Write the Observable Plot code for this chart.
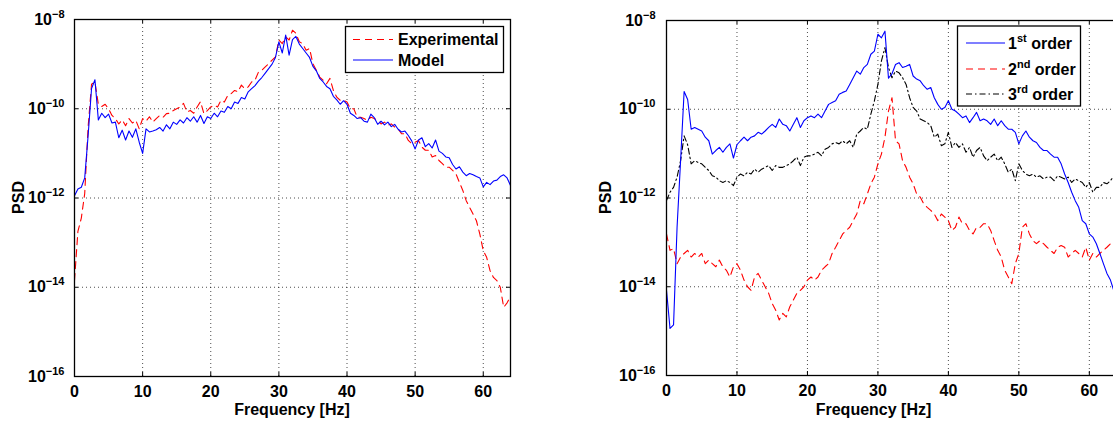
<!DOCTYPE html>
<html><head><meta charset="utf-8">
<script src="https://cdn.jsdelivr.net/npm/d3@7"></script>
<script src="https://cdn.jsdelivr.net/npm/@observablehq/plot@0.6"></script>
<style>
html,body{margin:0;padding:0;background:#fff;overflow:hidden}
#fig{position:relative;width:1113px;height:423px;overflow:hidden;background:#fff}
#fig svg{position:absolute;top:0}
</style></head><body><div id="fig"></div>
<script>
// Frequency grid of every series: 0 .. 64 Hz in 0.5 Hz steps
const freqStepHz = 0.5;
const xTicks = [0, 10, 20, 30, 40, 50, 60];
const yTickExponents = [-16, -14, -12, -10, -8];
const gridExponents = [-14, -12, -10];
const xLabel = "Frequency [Hz]";
const yLabel = "PSD";
const leftLegend = ["Experimental", "Model"];
const rightLegend = [["1", "st", " order"], ["2", "nd", " order"], ["3", "rd", " order"]];

// log10(PSD) values
const experimental = [
 -13.85,-12.75,-12.45,-11.90,-10.40,-9.45,-9.40,-9.90,-9.95,-9.90,
 -10.00,-10.15,-10.22,-10.34,-10.25,-10.38,-10.22,-10.32,-10.26,-10.45,
 -10.22,-10.28,-10.18,-10.30,-10.22,-10.15,-10.19,-10.11,-10.10,-10.04,
 -10.00,-9.96,-9.88,-10.07,-10.04,-10.10,-9.96,-9.84,-10.11,-10.04,
 -9.96,-9.92,-9.96,-9.81,-9.85,-9.70,-9.66,-9.59,-9.62,-9.47,
 -9.55,-9.51,-9.40,-9.36,-9.18,-9.14,-9.06,-8.99,-8.91,-8.84,
 -8.46,-8.54,-8.39,-8.46,-8.24,-8.31,-8.50,-8.54,-8.69,-8.65,
 -8.99,-9.14,-9.29,-9.36,-9.44,-9.32,-9.59,-9.74,-9.81,-9.81,
 -9.85,-10.00,-10.00,-10.19,-10.19,-10.22,-10.26,-10.19,-10.22,-10.26,
 -10.34,-10.30,-10.37,-10.34,-10.41,-10.45,-10.56,-10.56,-10.71,-10.78,
 -10.75,-10.71,-10.86,-10.93,-10.93,-11.08,-11.05,-11.16,-11.23,-11.31,
 -11.31,-11.38,-11.46,-11.65,-11.83,-12.06,-12.21,-12.36,-12.51,-12.81,
 -13.18,-13.33,-13.63,-13.78,-13.85,-14.00,-14.45,-14.35,-14.20];
const model = [
 -11.95,-11.80,-11.76,-11.55,-10.60,-9.55,-9.35,-10.25,-10.10,-10.20,
 -10.12,-10.32,-10.30,-10.65,-10.48,-10.70,-10.50,-10.64,-10.45,-10.75,
 -11.00,-10.45,-10.52,-10.50,-10.47,-10.42,-10.50,-10.36,-10.45,-10.30,
 -10.35,-10.25,-10.32,-10.20,-10.28,-10.18,-10.30,-10.15,-10.33,-10.18,
 -10.22,-10.10,-10.18,-10.05,-10.08,-9.95,-10.00,-9.85,-9.88,-9.75,
 -9.78,-9.62,-9.55,-9.48,-9.38,-9.30,-9.20,-9.10,-9.00,-8.85,
 -8.50,-8.75,-8.35,-8.80,-8.45,-8.38,-8.55,-8.65,-8.75,-8.85,
 -9.05,-9.15,-9.32,-9.40,-9.50,-9.55,-9.72,-9.80,-9.90,-9.82,
 -9.90,-10.10,-10.15,-10.22,-10.20,-10.28,-10.30,-10.12,-10.20,-10.35,
 -10.28,-10.36,-10.30,-10.40,-10.35,-10.46,-10.52,-10.50,-10.60,-10.72,
 -10.90,-10.70,-10.65,-10.85,-10.78,-10.88,-10.70,-10.95,-11.00,-11.08,
 -11.10,-11.25,-11.35,-11.30,-11.42,-11.50,-11.45,-11.48,-11.52,-11.55,
 -11.75,-11.65,-11.70,-11.62,-11.60,-11.52,-11.48,-11.55,-11.72];
const order1 = [
 -14.08,-14.94,-14.86,-12.66,-11.16,-9.60,-9.78,-10.45,-10.41,-10.45,
 -10.49,-10.63,-10.71,-11.01,-10.93,-10.86,-10.97,-10.86,-10.78,-11.10,
 -10.80,-10.71,-10.63,-10.71,-10.63,-10.60,-10.52,-10.56,-10.49,-10.41,
 -10.34,-10.41,-10.22,-10.34,-10.37,-10.49,-10.34,-10.19,-10.41,-10.26,
 -10.19,-10.15,-10.19,-10.11,-10.19,-10.04,-9.89,-9.85,-9.81,-9.66,
 -9.62,-9.59,-9.44,-9.29,-9.14,-9.21,-9.06,-8.99,-8.76,-8.69,
 -8.31,-8.39,-8.24,-9.30,-9.20,-8.99,-8.95,-9.06,-9.03,-8.99,
 -9.25,-9.32,-9.36,-9.47,-9.55,-9.51,-9.74,-9.89,-10.00,-9.96,
 -9.81,-10.00,-10.04,-10.11,-10.19,-10.15,-10.30,-10.19,-10.07,-10.26,
 -10.22,-10.26,-10.34,-10.22,-10.37,-10.26,-10.37,-10.45,-10.45,-10.52,
 -10.78,-10.60,-10.49,-10.63,-10.71,-10.75,-10.86,-10.93,-10.93,-11.01,
 -11.08,-11.08,-11.23,-11.46,-11.65,-11.87,-12.06,-12.21,-12.51,-12.58,
 -12.81,-12.88,-13.03,-13.25,-13.48,-13.70,-13.85,-14.10,-14.20];
const order2 = [
 -12.81,-13.18,-13.14,-13.48,-13.33,-13.25,-13.18,-13.33,-13.25,-13.33,
 -13.25,-13.48,-13.40,-13.48,-13.55,-13.40,-13.55,-13.63,-13.78,-13.55,
 -13.48,-13.63,-13.85,-14.00,-14.08,-13.78,-13.70,-13.85,-14.00,-14.15,
 -14.38,-14.53,-14.75,-14.60,-14.68,-14.45,-14.30,-14.15,-14.08,-14.00,
 -13.85,-13.78,-13.85,-13.78,-13.63,-13.55,-13.48,-13.25,-13.11,-12.96,
 -12.81,-12.73,-12.66,-12.51,-12.36,-12.06,-12.13,-11.91,-11.68,-11.53,
 -11.23,-11.01,-10.63,-10.04,-9.74,-10.71,-10.78,-11.16,-11.31,-11.53,
 -11.68,-11.91,-11.98,-12.13,-12.21,-12.28,-12.36,-12.51,-12.36,-12.43,
 -12.51,-12.73,-12.66,-12.43,-12.58,-12.58,-12.73,-12.81,-12.66,-12.66,
 -12.58,-12.58,-12.73,-12.96,-13.18,-13.33,-13.63,-13.78,-13.93,-13.48,
 -13.25,-12.66,-12.58,-12.81,-12.96,-13.03,-12.96,-13.03,-13.11,-13.18,
 -13.25,-13.11,-13.07,-13.11,-13.33,-13.25,-13.18,-13.25,-13.33,-13.11,
 -13.40,-13.25,-13.33,-13.25,-13.18,-13.11,-13.03,-13.11,-13.07];
const order3 = [
 -12.06,-11.87,-11.76,-11.53,-11.16,-10.60,-10.80,-11.23,-11.16,-11.20,
 -11.23,-11.31,-11.38,-11.50,-11.53,-11.61,-11.65,-11.61,-11.65,-11.72,
 -11.53,-11.46,-11.50,-11.42,-11.46,-11.35,-11.42,-11.35,-11.31,-11.27,
 -11.38,-11.27,-11.31,-11.31,-11.27,-11.23,-11.16,-11.08,-11.27,-11.08,
 -11.05,-11.05,-11.01,-10.97,-11.05,-10.90,-10.86,-10.78,-10.75,-10.78,
 -10.71,-10.78,-10.71,-10.86,-10.56,-10.49,-10.41,-10.45,-10.11,-9.81,
 -9.44,-8.91,-8.61,-9.06,-9.29,-9.14,-9.18,-9.29,-9.44,-9.74,
 -9.96,-10.04,-10.22,-10.26,-10.30,-10.37,-10.63,-10.56,-10.82,-10.78,
 -10.52,-10.86,-10.75,-10.86,-10.78,-10.97,-10.86,-11.08,-10.93,-10.86,
 -11.05,-11.16,-11.08,-11.01,-11.16,-11.08,-11.23,-11.42,-11.35,-11.61,
 -11.23,-11.38,-11.46,-11.50,-11.46,-11.53,-11.50,-11.57,-11.53,-11.53,
 -11.61,-11.50,-11.53,-11.57,-11.53,-11.65,-11.57,-11.61,-11.65,-11.76,
 -11.65,-11.87,-11.76,-11.76,-11.65,-11.68,-11.61,-11.50,-11.53];

const FONT = '"Liberation Sans", Arial, Helvetica, sans-serif';
const NS = "http://www.w3.org/2000/svg";
const rows = (vals) => vals.map((e, i) => ({f: i * freqStepHz, psd: Math.pow(10, e)}));

const DASH = "7,5", DASHDOT = "6,3,1.5,3";

function panel(cfg) {
  const H = 423;
  const plotH = H - cfg.marginTop - cfg.marginBottom;
  const plotW = cfg.width - cfg.marginLeft - cfg.marginRight;
  const yTicks = yTickExponents.map(e => Math.pow(10, e));
  const gridY = gridExponents.map(e => Math.pow(10, e));
  const dot = {stroke: "#000", strokeOpacity: 0.7, strokeWidth: 1, strokeDasharray: "1,3"};
  const svg = Plot.plot({
    width: cfg.width, height: H,
    marginLeft: cfg.marginLeft, marginRight: cfg.marginRight,
    marginTop: cfg.marginTop, marginBottom: cfg.marginBottom,
    style: {fontFamily: FONT, fontSize: "16px", fontWeight: "bold", background: "transparent", color: "#000"},
    x: {type: "linear", domain: [0, 64]},
    y: {type: "log", domain: [1e-16, 1e-8]},
    marks: [
      Plot.gridX({ticks: xTicks.filter(d => d > 0), ...dot}),
      Plot.gridY({ticks: gridY, ...dot}),
      ...cfg.series.map(s => Plot.line(rows(s.values), {
        x: "f", y: "psd", stroke: s.color, strokeWidth: 1.1,
        strokeDasharray: s.dash, clip: true
      })),
      Plot.ruleX(xTicks, {insetTop: plotH - 4, stroke: "#000"}),
      Plot.ruleX(xTicks, {insetBottom: plotH - 4, stroke: "#000"}),
      Plot.ruleY(yTicks, {insetRight: plotW - 4, stroke: "#000"}),
      Plot.ruleY(yTicks, {insetLeft: plotW - 4, stroke: "#000"}),
      Plot.frame({stroke: "#000", strokeWidth: 1.3}),
      Plot.axisX({ticks: xTicks, tickSize: 0, tickPadding: 9, label: null, tickFormat: d => String(d)}),
      Plot.axisY({ticks: yTicks, tickSize: 0, tickPadding: cfg.yPad, label: null,
        tickFormat: d => "10|" + Math.round(Math.log10(d))})
    ]
  });
  svg.style.left = cfg.left + "px";
  // superscript exponents on the y tick labels
  svg.querySelectorAll('[aria-label="y-axis tick label"] text').forEach(t => {
    const [base, ex] = t.textContent.split("|");
    t.textContent = "";
    const a = document.createElementNS(NS, "tspan"); a.textContent = base;
    const b = document.createElementNS(NS, "tspan"); b.textContent = ex.replace("-", "\u2212");
    b.setAttribute("dy", "-7"); b.setAttribute("font-size", "11px");
    t.append(a, b);
  });
  const g = d3.select(svg).append("g").attr("font-family", FONT).attr("font-weight", "bold")
    .attr("fill", "#000").attr("text-anchor", "start");
  g.append("text").attr("transform", `translate(${cfg.yLabelX},${cfg.marginTop + plotH / 2}) rotate(-90)`)
    .attr("text-anchor", "middle").attr("dy", "0.35em").attr("font-size", 16).text(yLabel);
  g.append("text").attr("x", cfg.xLabelX).attr("y", 409).attr("dy", "0.35em")
    .attr("text-anchor", "middle").attr("font-size", 16).text(xLabel);
  // legend
  const L = cfg.legend;
  const lg = g.append("g");
  lg.append("rect").attr("x", L.x).attr("y", L.y).attr("width", L.w).attr("height", L.h)
    .attr("fill", "#fff").attr("stroke", "#000").attr("stroke-width", 1.3);
  L.items.forEach((it, i) => {
    const y = L.rowY[i];
    lg.append("line").attr("x1", L.sx1).attr("x2", L.sx2).attr("y1", y).attr("y2", y)
      .attr("stroke", it.color).attr("stroke-width", 1.1).attr("stroke-dasharray", it.dash || null);
    const t = lg.append("text").attr("x", L.tx).attr("y", y + 5.7).attr("font-size", 16)
      .attr("text-anchor", "start");
    if (Array.isArray(it.label)) {
      t.append("tspan").text(it.label[0]);
      t.append("tspan").attr("font-size", 11).attr("dy", -7).text(it.label[1]);
      t.append("tspan").attr("dy", 7).text(it.label[2]);
    } else t.text(it.label);
  });
  document.getElementById("fig").appendChild(svg);
}

panel({
  left: 0, width: 556, marginLeft: 74, marginRight: 46, marginTop: 19, marginBottom: 47, yPad: 10,
  yLabelX: 18, xLabelX: 292,
  series: [
    {values: experimental, color: "#ff0000", dash: DASH},
    {values: model, color: "#0000ff", dash: null}
  ],
  legend: {x: 345.5, y: 26.5, w: 158, h: 46, rowY: [39.5, 60], sx1: 353, sx2: 393, tx: 398,
    items: [{label: leftLegend[0], color: "#ff0000", dash: DASH}, {label: leftLegend[1], color: "#0000ff"}]}
});
panel({
  left: 556, width: 570, marginLeft: 110, marginRight: 9, marginTop: 20, marginBottom: 48, yPad: 11,
  yLabelX: 49, xLabelX: 317.5,
  series: [
    {values: order3, color: "#000000", dash: DASHDOT},
    {values: order2, color: "#ff0000", dash: DASH},
    {values: order1, color: "#0000ff", dash: null}
  ],
  legend: {x: 401.5, y: 26, w: 123, h: 80, rowY: [43, 69, 94], sx1: 410, sx2: 449, tx: 452,
    items: [{label: rightLegend[0], color: "#0000ff"}, {label: rightLegend[1], color: "#ff0000", dash: DASH},
            {label: rightLegend[2], color: "#000000", dash: DASHDOT}]}
});
</script></body></html>
